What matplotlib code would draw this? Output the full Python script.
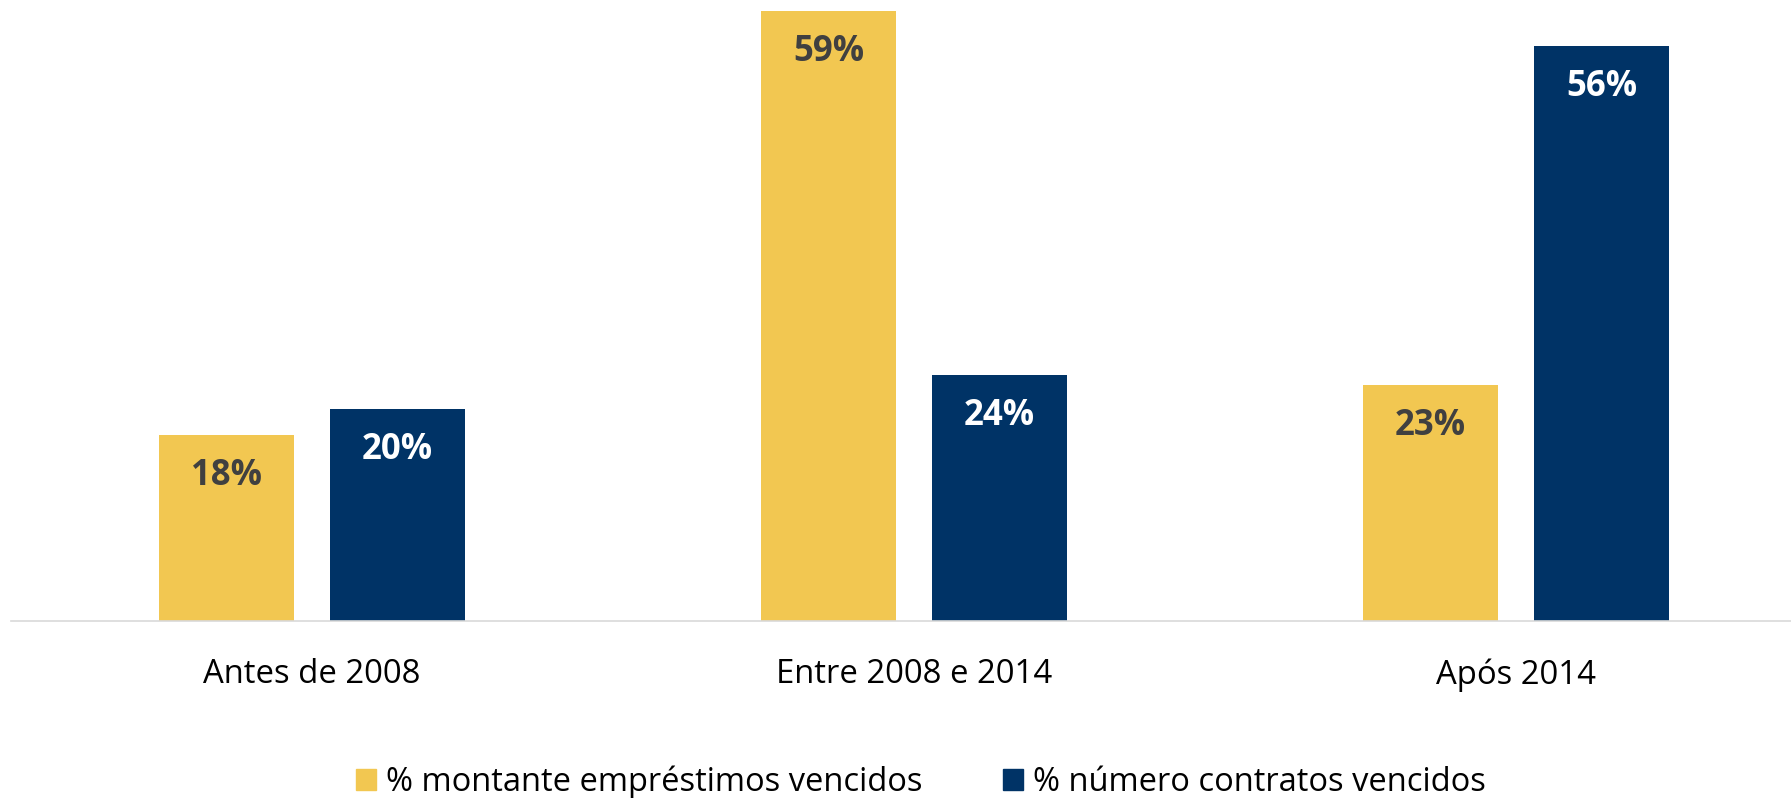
import numpy as np
import matplotlib.pyplot as plt
from matplotlib.patches import Patch

categories = ['Antes de 2008', 'Entre 2008 e 2014', 'Após 2014']
montante = [18.0, 59.0, 22.8]
contratos = [20.5, 23.8, 55.6]
montante_labels = ['18%', '59%', '23%']
contratos_labels = ['20%', '24%', '56%']
series_names = ['% montante empréstimos vencidos', '% número contratos vencidos']

yellow = '#F2C751'
navy = '#003366'

plt.rcParams['font.family'] = ['Open Sans', 'DejaVu Sans']

fig = plt.figure(figsize=(17.91, 7.98), dpi=100)
# axes runs a little past the right edge, like the original
ax = fig.add_axes([11 / 1791, 177.3 / 798, 1806 / 1791, 620.7 / 798])

x = np.arange(len(categories))
w = 0.224
off = 0.142
b1 = ax.bar(x - off, montante, w, color=yellow)
b2 = ax.bar(x + off, contratos, w, color=navy)

for bars, labs, c in [(b1, montante_labels, '#404040'), (b2, contratos_labels, 'white')]:
    for r, lab in zip(bars, labs):
        ax.annotate(lab, (r.get_x() + r.get_width() / 2, r.get_height()),
                    xytext=(0, -29.5), textcoords='offset points',
                    ha='center', va='center', fontsize=25,
                    fontweight='bold', color=c)

ax.set_xlim(-0.5, 2.5)
ax.set_ylim(0, 60.06)
ax.set_xticks(x)
ax.set_xticklabels(categories, fontsize=23.7)
ax.tick_params(axis='x', length=0, pad=27)
ax.set_yticks([])
for s in ['top', 'left', 'right']:
    ax.spines[s].set_visible(False)
ax.spines['bottom'].set_color('#D9D9D9')
ax.spines['bottom'].set_linewidth(1.2)

handles = [Patch(color=yellow), Patch(color=navy)]
fig.legend(handles, series_names, loc='center', ncol=2,
           bbox_to_anchor=(921 / 1791, 1 - 782 / 798), frameon=False,
           fontsize=23.5, handlelength=0.6, handleheight=0.6,
           handletextpad=0.3, columnspacing=2.48)

fig.savefig('out.png', dpi=100)
